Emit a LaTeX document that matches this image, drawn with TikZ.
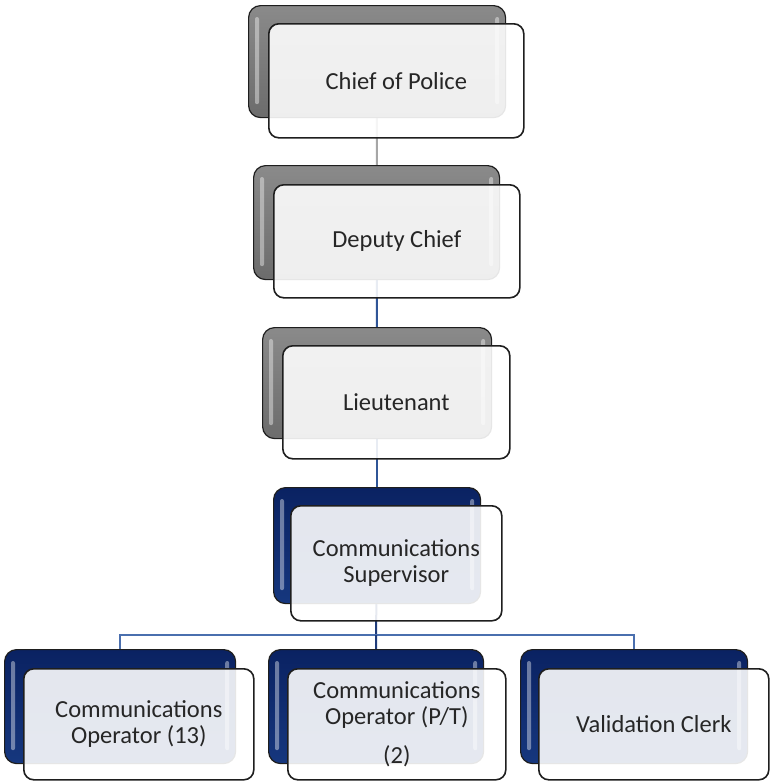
\documentclass[tikz,border=0pt]{standalone}
\usepackage{fontspec}
\setmainfont{Carlito}
\usetikzlibrary{backgrounds}
\definecolor{graytop}{HTML}{8A8A8A}
\definecolor{graybottom}{HTML}{6C6C6C}
\definecolor{navytop}{HTML}{0A2262}
\definecolor{navybottom}{HTML}{16377E}
\definecolor{darkline}{HTML}{1E1E1E}
\definecolor{textgray}{HTML}{262626}
\definecolor{graylink}{HTML}{A6A6A6}
\definecolor{bluelink}{HTML}{2F5597}
\definecolor{navylink}{HTML}{1F3C7A}
\definecolor{buslink}{HTML}{4A6FAE}
\tikzset{
  backbox/.style={rectangle, rounded corners=12pt, draw=darkline, line width=1.2pt, anchor=north west, inner sep=0pt},
  grayback/.style={backbox, top color=graytop, bottom color=graybottom},
  navyback/.style={backbox, top color=navytop, bottom color=navybottom},
  frontbox/.style={rectangle, rounded corners=10pt, draw=darkline, line width=1.6pt, fill=white, fill opacity=0.89, text opacity=1, anchor=north west, align=center, inner sep=0pt, text=textgray, font=\fontsize{24.5}{26}\selectfont},
  gloss/.style={fill=white, opacity=0.4, rounded corners=2pt},
  link/.style={line width=2pt}
}

\begin{document}
\begin{tikzpicture}[x=1pt, y=-1pt]
\useasboundingbox (0,0) rectangle (769,782);

% back boxes
\node[grayback, minimum width=257pt, minimum height=112pt] (chiefB) at (248,5) {};
\node[grayback, minimum width=246pt, minimum height=114pt] (deputyB) at (253,165) {};
\node[grayback, minimum width=229pt, minimum height=111pt] (lieutB) at (262,327) {};
\node[navyback, minimum width=207pt, minimum height=116pt] (supB) at (273,487) {};
\node[navyback, minimum width=231pt, minimum height=114pt] (op1B) at (4,649) {};
\node[navyback, minimum width=215pt, minimum height=114pt] (op2B) at (268,649) {};
\node[navyback, minimum width=227pt, minimum height=114pt] (op3B) at (520,649) {};

\foreach \n in {chiefB,deputyB,lieutB,supB,op1B,op2B,op3B} {
  \fill[gloss] ([shift={(7pt,-12pt)}]\n.north west) rectangle ([shift={(11pt,14pt)}]\n.south west);
  \fill[gloss] ([shift={(-11pt,-12pt)}]\n.north east) rectangle ([shift={(-7pt,14pt)}]\n.south east);
}

% front boxes
\node[frontbox, minimum width=255pt, minimum height=114pt] (chief) at (268,23) {Chief of Police};
\node[frontbox, minimum width=246pt, minimum height=113pt] (deputy) at (273,184) {Deputy Chief};
\node[frontbox, minimum width=227pt, minimum height=113pt] (lieut) at (282,345) {Lieutenant};
\node[frontbox, minimum width=211pt, minimum height=115pt] (sup) at (290,505) {Communications\\Supervisor};
\node[frontbox, minimum width=230pt, minimum height=111pt] (op1) at (23,668) {Communications\\Operator (13)};
\node[frontbox, minimum width=218pt, minimum height=111pt] (op2) at (287,668) {Communications\\Operator (P/T)\\[13pt](2)};
\node[frontbox, minimum width=230pt, minimum height=111pt] (op3) at (538,668) {Validation Clerk};

\coordinate (bus) at (376,635);

\begin{scope}[on background layer]
\draw[link, graylink] (chiefB) -- (deputyB);
\draw[link, bluelink] (deputyB) -- (lieutB);
\draw[link, bluelink] (lieutB) -- (supB);
\draw[link, navylink] (supB) -- (bus);
\draw[link, buslink] (bus) -| (op1B);
\draw[link, buslink] (bus) -| (op3B);
\draw[link, navylink] (bus) -- (op2B);
\end{scope}

\end{tikzpicture}
\end{document}
